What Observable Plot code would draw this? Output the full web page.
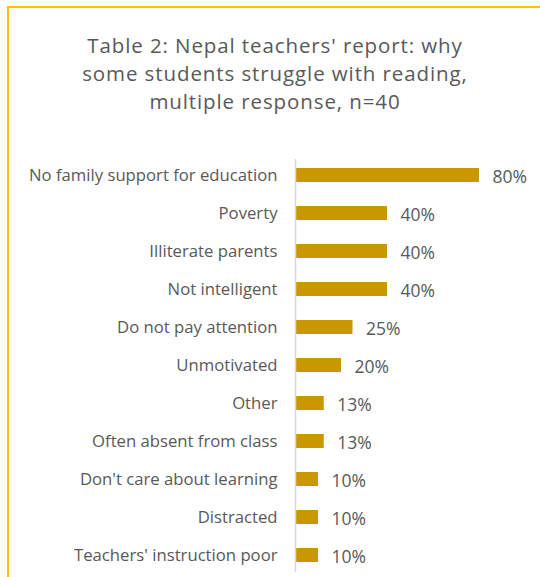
<!DOCTYPE html>
<html>
<head>
<meta charset="utf-8">
<script src="https://cdn.jsdelivr.net/npm/d3@7"></script>
<script src="https://cdn.jsdelivr.net/npm/@observablehq/plot@0.6"></script>
<style>
  html, body { margin: 0; padding: 0; background: #fff; overflow: hidden; }
  #frame { position: absolute; left: 7px; top: 6px; width: 700px; height: 700px;
           border-left: 2px solid #FFC000; border-top: 2px solid #FFC000; }
  #title { position: absolute; left: 0; top: 31px; width: 550px; text-align: center;
           font-family: "Open Sans", sans-serif; font-size: 20.5px; letter-spacing: 0.9px;
           line-height: 28px; color: #595959; }
  #chart { position: absolute; left: 0; top: 140px; }
</style>
</head>
<body>
<div id="frame"></div>
<div id="title">Table 2: Nepal teachers' report: why<br>some students struggle with reading,<br>multiple response, n=40</div>
<div id="chart"></div>
<script>
const categories = [
  "No family support for education",
  "Poverty",
  "Illiterate parents",
  "Not intelligent",
  "Do not pay attention",
  "Unmotivated",
  "Other",
  "Often absent from class",
  "Don't care about learning",
  "Distracted",
  "Teachers' instruction poor"
];
const values = [80, 40, 40, 40, 25, 20, 12.5, 12.5, 10, 10, 10];
const valueLabels = ["80%", "40%", "40%", "40%", "25%", "20%", "13%", "13%", "10%", "10%", "10%"];

const data = categories.map((c, i) => ({category: c, value: values[i], label: valueLabels[i]}));

const chart = Plot.plot({
  width: 540,
  height: 437,
  marginLeft: 295,
  marginRight: 10,
  marginTop: 19,
  marginBottom: 5,
  style: {fontFamily: "'Open Sans', sans-serif", color: "#595959", background: "transparent"},
  x: {domain: [0, 100], range: [295, 525], axis: null},
  y: {domain: categories, paddingInner: 0.63, paddingOuter: 0.2, label: null},
  marks: [
    Plot.barX(data, {y: "category", x: "value", fill: "#C99800"}),
    Plot.ruleX([0], {stroke: "#D9D9D9", strokeWidth: 1.5}),
    Plot.text(data, {y: "category", x: "value", text: "label", textAnchor: "start", dx: 13, dy: 2,
                     fontSize: 17.5, fill: "#595959"}),
    Plot.axisY({tickSize: 0, tickPadding: 18, fontSize: 16.7, fill: "#595959", label: null})
  ]
});
document.getElementById("chart").appendChild(chart);
</script>
</body>
</html>
